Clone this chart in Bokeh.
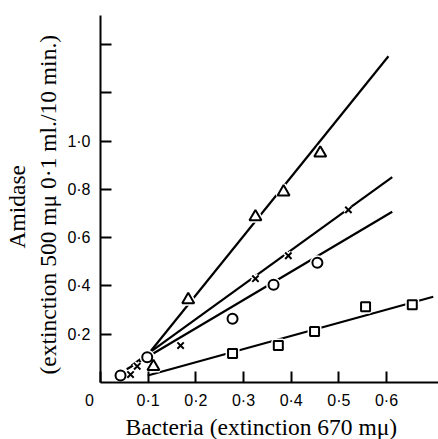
from bokeh.embed import file_html
from bokeh.models import FixedTicker, Range1d, Title
from bokeh.plotting import figure
from bokeh.resources import INLINE

# Amidase activity against bacterial density, four preparations
tri_x = [0.111, 0.184, 0.325, 0.384, 0.461]
tri_y = [0.066, 0.343, 0.686, 0.789, 0.950]

cross_x = [0.063, 0.077, 0.168, 0.325, 0.394, 0.520]
cross_y = [0.033, 0.067, 0.153, 0.430, 0.525, 0.715]

circ_x = [0.042, 0.098, 0.277, 0.363, 0.455]
circ_y = [0.029, 0.105, 0.264, 0.405, 0.496]

sq_x = [0.277, 0.373, 0.449, 0.556, 0.654]
sq_y = [0.120, 0.153, 0.211, 0.314, 0.322]

# fitted straight lines (end points)
tri_fit_x = [0.103, 0.604]
tri_fit_y = [0.124, 1.351]
cross_fit_x = [0.065, 0.612]
cross_fit_y = [0.070, 0.851]
circ_fit_x = [0.055, 0.612]
circ_fit_y = [0.055, 0.707]
sq_fit_x = [0.099, 0.698]
sq_fit_y = [0.029, 0.355]

NB = "\u00a0"
x_ticks = [0.0, 0.1, 0.2, 0.3, 0.4, 0.5, 0.6]
x_tick_labels = ["0" + NB * 5, "0·1", "0·2", "0·3", "0·4", "0·5", "0·6"]
y_ticks = [0.2, 0.4, 0.6, 0.8, 1.0, 1.2, 1.4]
y_tick_labels = ["0·2", "0·4", "0·6", "0·8", "1·0", "", ""]

x_title = "Bacteria (extinction 670 mμ)"
y_title_1 = "Amidase"
y_title_2 = "(extinction 500 mμ 0·1 ml./10 min.)"

W, H = 438, 439
SERIF = "Liberation Serif"
SANS = "Liberation Sans"

p = figure(
    width=W, height=H,
    x_range=Range1d(0, 0.709), y_range=Range1d(0, 1.52),
    output_backend="svg", toolbar_location=None,
    min_border_left=100, min_border_right=0,
    min_border_top=15, min_border_bottom=56,
)
p.grid.visible = False
p.outline_line_color = None
p.background_fill_color = "white"
p.border_fill_color = "white"

for ax, ticks, labels in ((p.xaxis[0], x_ticks, x_tick_labels),
                          (p.yaxis[0], y_ticks, y_tick_labels)):
    ax.ticker = FixedTicker(ticks=ticks)
    ax.major_label_overrides = dict(zip(ticks, labels))
    ax.minor_tick_line_color = None
    ax.axis_line_width = 2
    ax.major_tick_line_width = 2
    ax.major_tick_in = 11
    ax.major_tick_out = 0
    ax.major_label_text_font = SANS
    ax.major_label_text_font_size = "16px"
    ax.major_label_text_color = "black"
    ax.axis_line_color = "black"
    ax.major_tick_line_color = "black"
p.xaxis.major_label_standoff = 9
p.yaxis.major_label_standoff = 10

# fitted lines
for fx, fy in ((tri_fit_x, tri_fit_y), (cross_fit_x, cross_fit_y),
               (circ_fit_x, circ_fit_y), (sq_fit_x, sq_fit_y)):
    p.line(fx, fy, line_color="black", line_width=2.2)

# points: a white halo first so the lines break around each symbol
series = [
    (tri_x, tri_y, "triangle", 12),
    (cross_x, cross_y, "x", 9),
    (circ_x, circ_y, "circle", 10),
    (sq_x, sq_y, "square", 9),
]
for sx, sy, mk, sz in series:
    p.scatter(sx, sy, marker=mk, size=sz, fill_color="white",
              line_color="white", line_width=5)
for sx, sy, mk, sz in series:
    p.scatter(sx, sy, marker=mk, size=sz, fill_color="white",
              line_color="black", line_width=2)


def side_title(text, side, offset, standoff):
    p.add_layout(Title(
        text=text, align="left", offset=offset, standoff=standoff,
        text_font=SERIF, text_font_size="23.5px", text_font_style="normal",
        text_color="black"), side)


side_title(x_title, "below", 25, 0)
side_title(y_title_2, "left", 8, 7)
side_title(y_title_1, "left", 134, 0)

open("out.html", "w").write(file_html(p, INLINE))
